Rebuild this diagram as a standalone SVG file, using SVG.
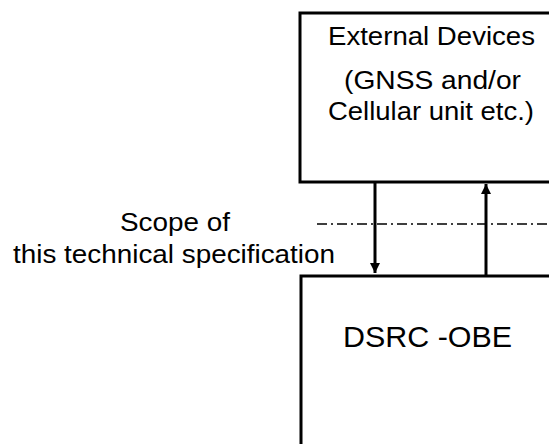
<svg xmlns="http://www.w3.org/2000/svg" width="549" height="444" viewBox="0 0 549 444">
<style>
.box{fill:#fff;stroke:#000;stroke-width:3}
.t{font-family:"Liberation Sans",Arial,sans-serif;fill:#000}
.conn{stroke:#000;stroke-width:3;fill:none}
.scope{stroke:#000;stroke-width:1.3;stroke-dasharray:10 4 2 4;fill:none}
</style>
<defs>
<marker id="ah" viewBox="0 0 10 10" refX="10" refY="5" markerWidth="3.4" markerHeight="3.4" orient="auto" markerUnits="strokeWidth">
<path d="M0,0 L10,5 L0,10 Z" fill="#000"/>
</marker>
</defs>
<rect width="549" height="444" fill="#fff"/>
<g id="external-devices">
<rect class="box" x="300" y="13" width="260" height="169"/>
<text class="t" x="328" y="45" font-size="25" textLength="207" lengthAdjust="spacingAndGlyphs">External Devices</text>
<text class="t" x="344" y="89" font-size="25" textLength="177" lengthAdjust="spacingAndGlyphs">(GNSS and/or</text>
<text class="t" x="328" y="120" font-size="25" textLength="206" lengthAdjust="spacingAndGlyphs">Cellular unit etc.)</text>
</g>
<g id="dsrc-obe">
<rect class="box" x="301" y="276" width="260" height="180"/>
<text class="t" x="343" y="347" font-size="30" textLength="169" lengthAdjust="spacingAndGlyphs">DSRC -OBE</text>
</g>
<g id="scope">
<text class="t" x="120" y="231" font-size="25" textLength="110" lengthAdjust="spacingAndGlyphs">Scope of</text>
<text class="t" x="13" y="263" font-size="25" textLength="322" lengthAdjust="spacingAndGlyphs">this technical specification</text>
</g>
<g id="connectors">
<line class="scope" x1="317" y1="224" x2="549" y2="224"/>
<line class="conn" x1="375" y1="183" x2="375" y2="273" marker-end="url(#ah)"/>
<line class="conn" x1="486" y1="275" x2="486" y2="184" marker-end="url(#ah)"/>
</g>
</svg>
